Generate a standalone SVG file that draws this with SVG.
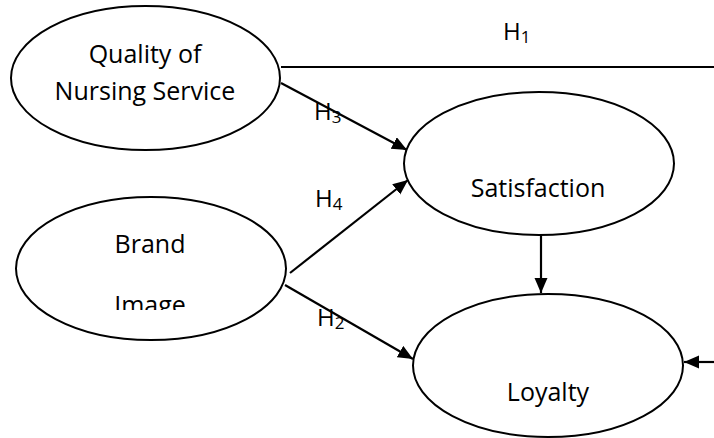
<svg xmlns="http://www.w3.org/2000/svg" width="714" height="438" viewBox="0 0 714 438">
<style>
.node{fill:#fff;stroke:#000;stroke-width:2}
.lbl{font-family:"Open Sans","Liberation Sans",sans-serif;font-size:25px;fill:#000;text-anchor:middle}
.h{font-family:"Open Sans","Liberation Sans",sans-serif;font-size:24px;fill:#000}
.sub{font-size:17px}
.edge{fill:none;stroke:#000;stroke-width:2.2}
</style>
<defs>
<marker id="arr" markerUnits="userSpaceOnUse" markerWidth="16" markerHeight="14" refX="15" refY="6.5" orient="auto">
<path d="M0,0 L15,6.5 L0,13 z" fill="#000"/>
</marker>
<clipPath id="clipImg"><rect x="0" y="0" width="714" height="310"/></clipPath>
</defs>
<rect width="714" height="438" fill="#fff"/>
<g id="connectors">
<path class="edge" d="M281,67 L714,67"/>
<path class="edge" d="M281,83 L407,150" marker-end="url(#arr)"/>
<path class="edge" d="M290,273 L408,180" marker-end="url(#arr)"/>
<path class="edge" d="M285,285 L413,359" marker-end="url(#arr)"/>
<path class="edge" d="M541,235 L541,293" marker-end="url(#arr)"/>
<path class="edge" d="M714,362 L684,362" marker-end="url(#arr)"/>
<text class="h" x="503" y="40">H<tspan class="sub" dy="3">1</tspan></text>
<text class="h" x="314" y="120">H<tspan class="sub" dy="3">3</tspan></text>
<text class="h" x="315" y="207">H<tspan class="sub" dy="3">4</tspan></text>
<text class="h" x="317" y="326">H<tspan class="sub" dy="3">2</tspan></text>
</g>
<g id="quality">
<ellipse class="node" cx="145.5" cy="78" rx="134.5" ry="72"/>
<text class="lbl" x="145" y="63">Quality of</text>
<text class="lbl" x="145" y="100">Nursing Service</text>
</g>
<g id="satisfaction">
<ellipse class="node" cx="539" cy="163.5" rx="135" ry="71.5"/>
<text class="lbl" x="538" y="197">Satisfaction</text>
</g>
<g id="brand">
<ellipse class="node" cx="151" cy="268.5" rx="135" ry="71.5"/>
<text class="lbl" x="150" y="253">Brand</text>
<text class="lbl" x="150" y="314" clip-path="url(#clipImg)">Image</text>
</g>
<g id="loyalty">
<ellipse class="node" cx="548" cy="365.5" rx="135" ry="71.5"/>
<text class="lbl" x="548" y="401">Loyalty</text>
</g>
</svg>
